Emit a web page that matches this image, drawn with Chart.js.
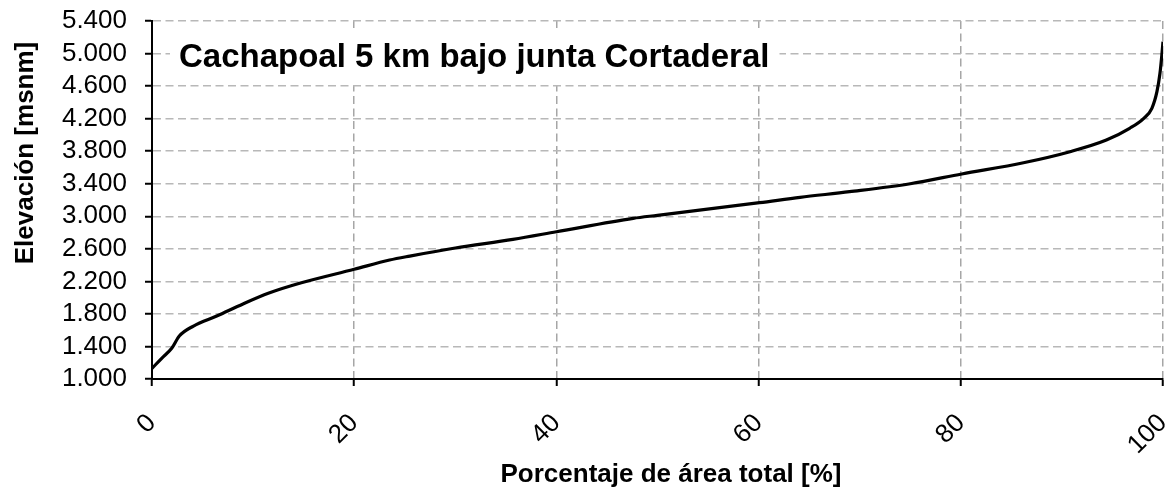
<!DOCTYPE html>
<html>
<head>
<meta charset="utf-8">
<script src="https://cdn.jsdelivr.net/npm/chart.js@4.4.1/dist/chart.umd.min.js"></script>
<style>
html,body{margin:0;padding:0;background:#fff;}
#wrap{width:1170px;height:488px;position:relative;}
</style>
</head>
<body>
<div id="wrap"><canvas id="c" width="1170" height="488"></canvas></div>
<script>
// Data (hypsometric curve)
const pctArea   = [0, 0.96, 1.95, 2.7, 4.1, 6.4, 9.0, 11.5, 14.6, 20, 23.5, 25.5, 30, 35.7, 40, 47.6, 50, 60.1, 64.1, 69, 75, 80.1, 86.2, 90.8, 94.4, 96.7, 98.1, 98.9, 99.4, 99.7, 99.9, 100];
const elevation = [1131, 1254, 1377, 1528, 1651, 1774, 1922, 2053, 2176, 2348, 2462, 2511, 2610, 2717, 2810, 2975, 3012, 3167, 3233, 3302, 3400, 3520, 3658, 3794, 3937, 4081, 4204, 4327, 4531, 4757, 5002, 5145];
const xTicks = [0, 20, 40, 60, 80, 100];
const yTicks = [1000, 1400, 1800, 2200, 2600, 3000, 3400, 3800, 4200, 4600, 5000, 5400];
const chartTitle = 'Cachapoal 5 km bajo junta Cortaderal';
const xTitle = 'Porcentaje de área total [%]';
const yTitle = 'Elevación [msnm]';

const FONT = '"Liberation Sans", Arial, sans-serif';

function fmtThousands(v){
  const s = String(Math.round(v));
  return s.replace(/\B(?=(\d{3})+(?!\d))/g, '.');
}

const textPlugin = {
  id: 'texts',
  beforeDatasetsDraw(chart){
    const ctx = chart.ctx, a = chart.chartArea;
    ctx.save();
    ctx.font = 'bold 33px ' + FONT;
    const w = ctx.measureText(chartTitle).width;
    ctx.fillStyle = '#fff';
    ctx.fillRect(a.left + 18, a.top + 7, w + 19, 57);
    ctx.restore();
  },
  afterDraw(chart){
    const ctx = chart.ctx, a = chart.chartArea;
    ctx.save();
    ctx.fillStyle = '#000';
    ctx.textBaseline = 'alphabetic';
    ctx.font = 'bold 33px ' + FONT;
    ctx.textAlign = 'left';
    ctx.fillText(chartTitle, a.left + 27, a.top + 46);
    ctx.font = 'bold 26px ' + FONT;
    ctx.textAlign = 'center';
    ctx.fillText(xTitle, 671, 482);
    ctx.translate(33, 153);
    ctx.rotate(-Math.PI/2);
    ctx.fillText(yTitle, 0, 0);
    ctx.restore();
  }
};

const points = pctArea.map((x, i) => ({x: x, y: elevation[i]}));

new Chart(document.getElementById('c'), {
  type: 'line',
  data: {
    datasets: [{
      data: points,
      borderColor: '#000',
      borderWidth: 3.2,
      pointRadius: 0,
      fill: false,
      cubicInterpolationMode: 'monotone'
    }]
  },
  options: {
    responsive: false,
    animation: false,
    devicePixelRatio: 1,
    layout: { padding: { top: 21, right: 7, left: 0, bottom: 0 } },
    plugins: { legend: { display: false }, tooltip: { enabled: false }, title: { display: false } },
    scales: {
      x: {
        type: 'linear',
        min: 0, max: 100,
        afterBuildTicks(scale){ scale.ticks = xTicks.map(v => ({value: v})); },
        afterFit(scale){ scale.height = 109; scale.paddingLeft = 0; scale.paddingRight = 0; },
        ticks: {
          minRotation: 45, maxRotation: 45,
          autoSkip: false,
          padding: 22,
          color: '#000',
          font: { family: FONT, size: 26 },
          callback: v => String(v)
        },
        grid: {
          color: '#a6a6a6', lineWidth: 1.5,
          tickColor: '#000', tickLength: 7, tickWidth: 2, tickBorderDash: []
        },
        border: { display: true, color: '#000', width: 2, dash: [8, 4.5] }
      },
      y: {
        type: 'linear',
        min: 1000, max: 5400,
        afterBuildTicks(scale){ scale.ticks = yTicks.map(v => ({value: v})); },
        afterFit(scale){ scale.width = 152; scale.paddingTop = 0; scale.paddingBottom = 0; },
        ticks: {
          autoSkip: false,
          padding: 18,
          color: '#000',
          font: { family: FONT, size: 26 },
          callback: v => fmtThousands(v)
        },
        grid: {
          color: '#b8b8b8', lineWidth: 1.5,
          tickColor: '#000', tickLength: 7, tickWidth: 2, tickBorderDash: []
        },
        border: { display: true, color: '#000', width: 2, dash: [8, 4.5] }
      }
    }
  },
  plugins: [textPlugin]
});
</script>
</body>
</html>
